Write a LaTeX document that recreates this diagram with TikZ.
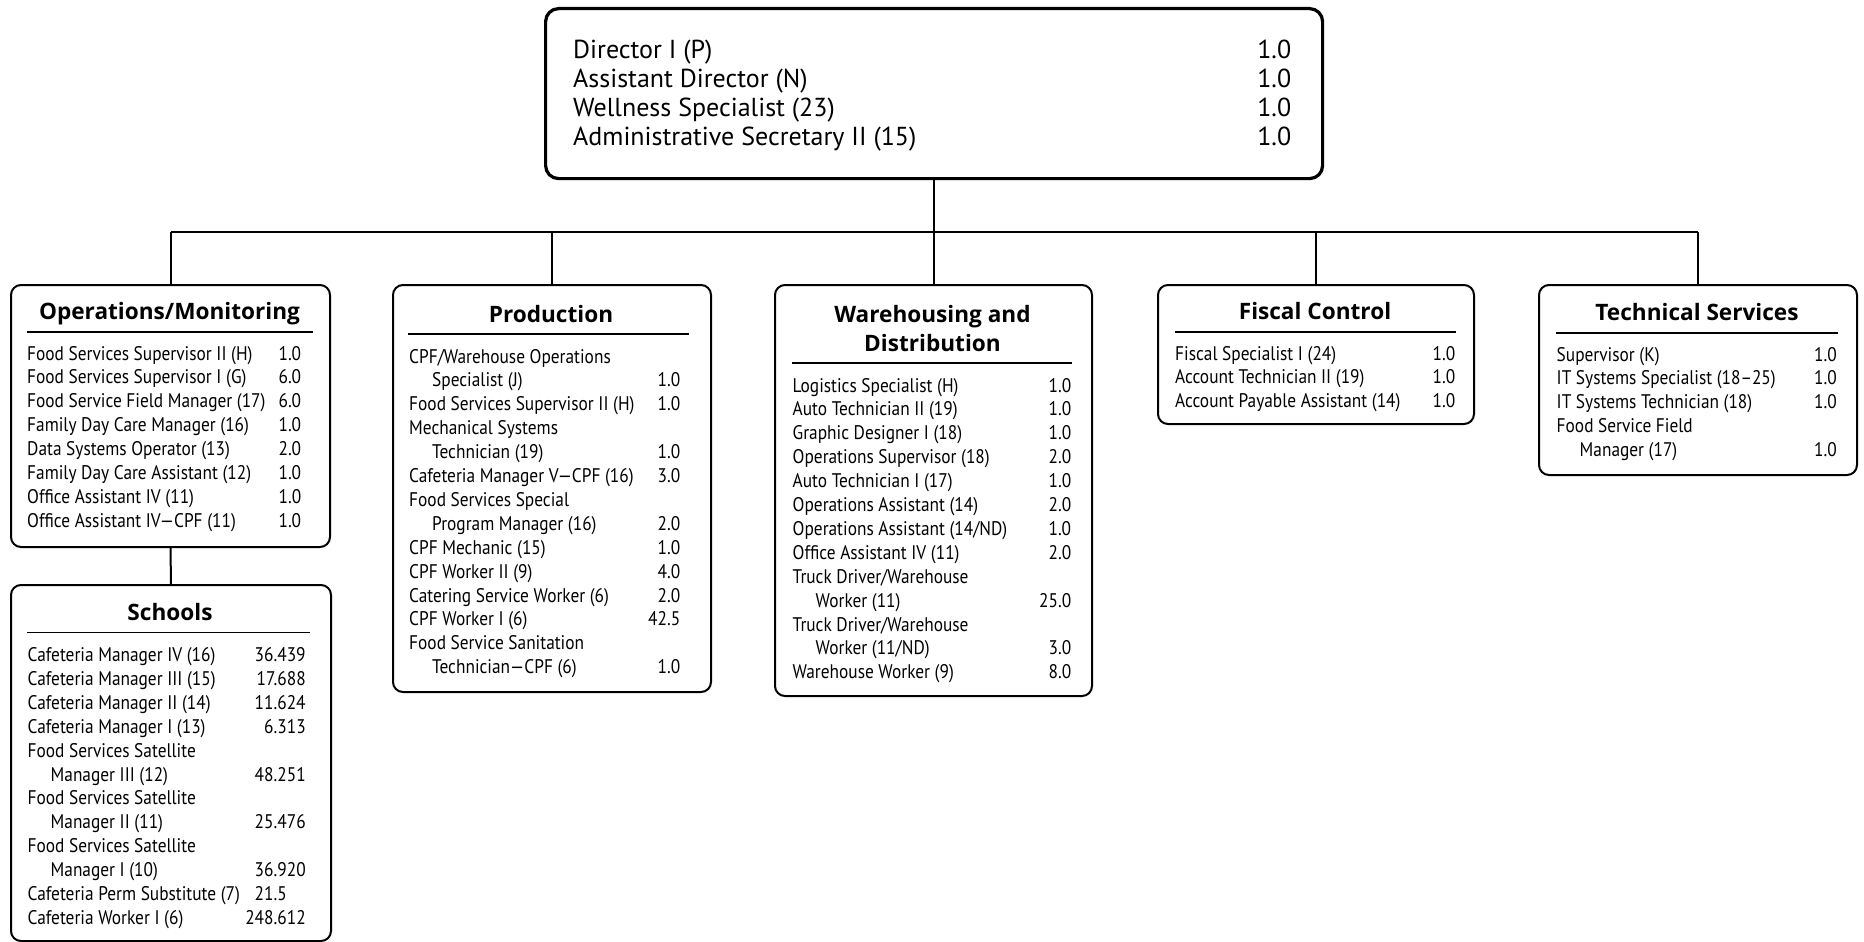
\documentclass[tikz,border=0pt]{standalone}
\usepackage{fontspec}
\setmainfont{PT Sans}[FakeStretch=0.88]
\newfontfamily\topfont{PT Sans}
\newfontfamily\headfont{Open Sans}
\usepackage{array}
\usetikzlibrary{calc}
\newcommand\subln{\hspace*{23pt}}
\begin{document}
\begin{tikzpicture}[x=1pt,y=-1pt,
  unit/.style={draw=black, line width=2pt, rounded corners=10pt, anchor=north west, inner sep=0pt},
  head/.style={anchor=base, inner sep=0pt, font=\headfont\bfseries\fontsize{22.6}{28.6}\selectfont},
  list/.style={anchor=base west, inner sep=0pt, font=\fontsize{19.7}{23.9}\selectfont},
  rulel/.style={line width=1.2pt},
  link/.style={line width=2pt}
]
\useasboundingbox (0,0) rectangle (1864,942);

% ---------- director's office ----------
\node[draw=black, line width=3.2pt, rounded corners=13pt, anchor=north west, inner sep=0pt,
      minimum width=777pt, minimum height=170pt] (dir) at (544,7) {};
\node[anchor=base west, inner sep=0pt, font=\topfont\fontsize{26}{28.9}\selectfont] (dirtxt) at (573,59)
 {\begin{tabular*}{718pt}[t]{@{}l@{\extracolsep{\fill}}r@{}}
  Director I (P) & 1.0\\
  Assistant Director (N) & 1.0\\
  Wellness Specialist (23) & 1.0\\
  Administrative Secretary II (15) & 1.0
  \end{tabular*}};

% ---------- Operations/Monitoring ----------
\node[unit, minimum width=319pt, minimum height=262pt] (ops) at (10,284) {};
\node[head] (opsh) at (169.5,319) {Operations/Monitoring};
\draw[rulel] (27,332) -- (313,332);
\node[list] (opsl) at (27,360)
 {\begin{tabular*}{274pt}[t]{@{}l@{\extracolsep{\fill}}r@{}}
  Food Services Supervisor II (H) & 1.0\\
  Food Services Supervisor I (G) & 6.0\\
  Food Service Field Manager (17) & 6.0\\
  Family Day Care Manager (16) & 1.0\\
  Data Systems Operator (13) & 2.0\\
  Family Day Care Assistant (12) & 1.0\\
  Office Assistant IV (11) & 1.0\\
  Office Assistant IV—CPF (11) & 1.0
  \end{tabular*}};

% ---------- Schools ----------
\node[unit, minimum width=320pt, minimum height=356pt] (sch) at (10,584) {};
\node[head] (schh) at (170,620) {Schools};
\draw[rulel] (27,632.5) -- (310,632.5);
\node[list] (schl) at (27.5,661.5)
 {\begin{tabular*}{278pt}[t]{@{}l@{\extracolsep{\fill}}r@{}}
  Cafeteria Manager IV (16) & 36.439\\
  Cafeteria Manager III (15) & 17.688\\
  Cafeteria Manager II (14) & 11.624\\
  Cafeteria Manager I (13) & 6.313\\
  Food Services Satellite & \\
  \subln Manager III (12) & 48.251\\
  Food Services Satellite & \\
  \subln Manager II (11) & 25.476\\
  Food Services Satellite & \\
  \subln Manager I (10) & 36.920\\
  Cafeteria Perm Substitute (7) & 21.5\hphantom{00}\\
  Cafeteria Worker I (6) & 248.612
  \end{tabular*}};

% ---------- Production ----------
\node[unit, minimum width=318pt, minimum height=407pt] (prod) at (392,284) {};
\node[head] (prodh) at (551,322.5) {Production};
\draw[rulel] (408,334) -- (689,334);
\node[list] (prodl) at (409,363)
 {\begin{tabular*}{271pt}[t]{@{}l@{\extracolsep{\fill}}r@{}}
  CPF/Warehouse Operations & \\
  \subln Specialist (J) & 1.0\\
  Food Services Supervisor II (H) & 1.0\\
  Mechanical Systems & \\
  \subln Technician (19) & 1.0\\
  Cafeteria Manager V—CPF (16) & 3.0\\
  Food Services Special & \\
  \subln Program Manager (16) & 2.0\\
  CPF Mechanic (15) & 1.0\\
  CPF Worker II (9) & 4.0\\
  Catering Service Worker (6) & 2.0\\
  CPF Worker I (6) & 42.5\\
  Food Service Sanitation & \\
  \subln Technician—CPF (6) & 1.0
  \end{tabular*}};

% ---------- Warehousing and Distribution ----------
\node[unit, minimum width=317pt, minimum height=411pt] (wh) at (774,284) {};
\node[head] (whh) at (932.5,322.5)
 {\begin{tabular}[t]{@{}c@{}}Warehousing and\\Distribution\end{tabular}};
\draw[rulel] (792,363) -- (1072,363);
\node[list] (whl) at (792.5,392)
 {\begin{tabular*}{278.5pt}[t]{@{}l@{\extracolsep{\fill}}r@{}}
  Logistics Specialist (H) & 1.0\\
  Auto Technician II (19) & 1.0\\
  Graphic Designer I (18) & 1.0\\
  Operations Supervisor (18) & 2.0\\
  Auto Technician I (17) & 1.0\\
  Operations Assistant (14) & 2.0\\
  Operations Assistant (14/ND) & 1.0\\
  Office Assistant IV (11) & 2.0\\
  Truck Driver/Warehouse & \\
  \subln Worker (11) & 25.0\\
  Truck Driver/Warehouse & \\
  \subln Worker (11/ND) & 3.0\\
  Warehouse Worker (9) & 8.0
  \end{tabular*}};

% ---------- Fiscal Control ----------
\node[unit, minimum width=316pt, minimum height=139pt] (fis) at (1157,284) {};
\node[head] (fish) at (1315,319) {Fiscal Control};
\draw[rulel] (1175,332) -- (1456,332);
\node[list] (fisl) at (1175,360)
 {\begin{tabular*}{280pt}[t]{@{}l@{\extracolsep{\fill}}r@{}}
  Fiscal Specialist I (24) & 1.0\\
  Account Technician II (19) & 1.0\\
  Account Payable Assistant (14) & 1.0
  \end{tabular*}};

% ---------- Technical Services ----------
\node[unit, minimum width=318pt, minimum height=190pt] (tech) at (1538,284) {};
\node[head] (techh) at (1697,320.5) {Technical Services};
\draw[rulel] (1556,333) -- (1838,333);
\node[list] (techl) at (1556.5,361)
 {\begin{tabular*}{280pt}[t]{@{}l@{\extracolsep{\fill}}r@{}}
  Supervisor (K) & 1.0\\
  IT Systems Specialist (18–25) & 1.0\\
  IT Systems Technician (18) & 1.0\\
  Food Service Field & \\
  \subln Manager (17) & 1.0
  \end{tabular*}};

% ---------- reporting lines ----------
\coordinate (bus) at ($(dir.south)+(0,52)$);
\draw[link] (dir.south) -- (bus);
\draw[link] (ops.north |- bus) -- (tech.north |- bus);
\foreach \u in {ops,prod,wh,fis,tech}
  \draw[link] (\u.north |- bus) -- (\u.north);
\draw[link] (ops.south) -- (sch.north);
\end{tikzpicture}
\end{document}
